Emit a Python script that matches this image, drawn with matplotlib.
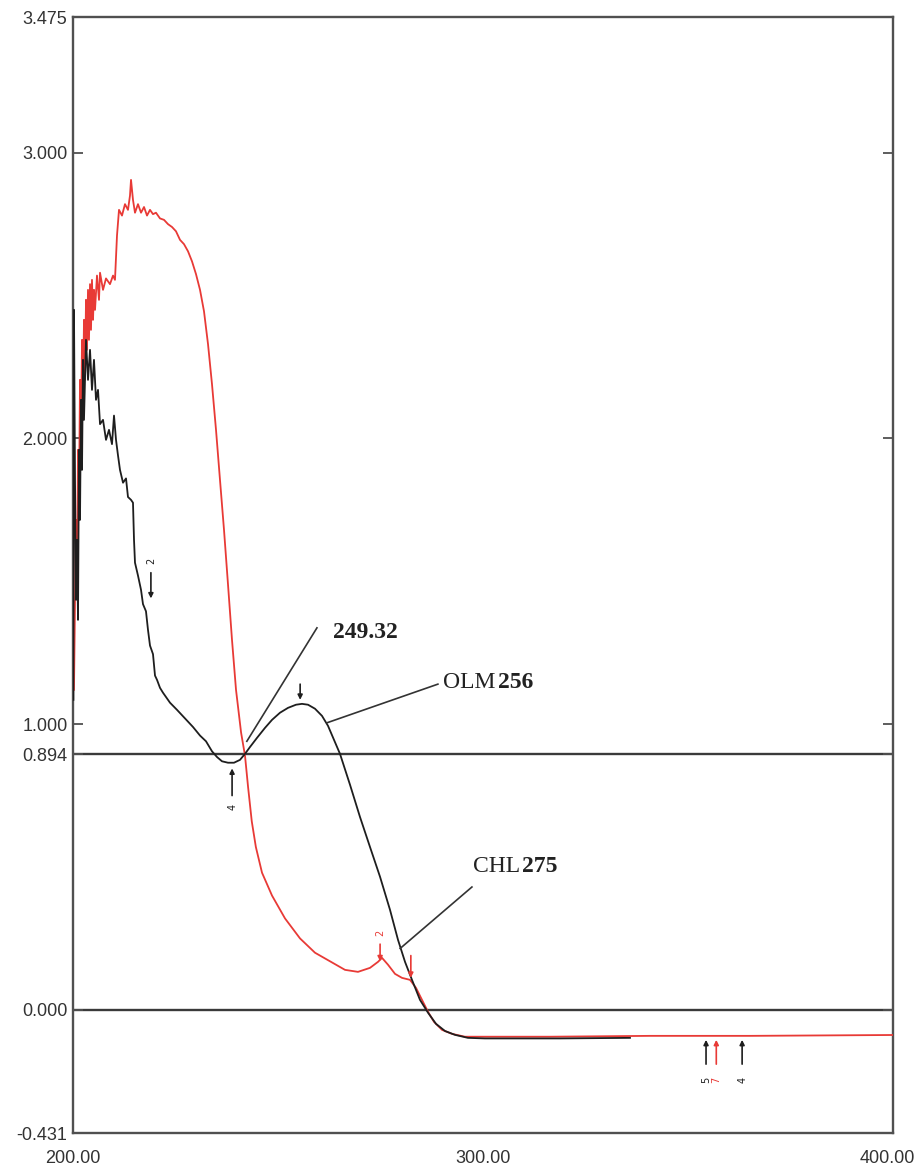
import matplotlib
matplotlib.use("Agg")
import matplotlib.pyplot as plt
import matplotlib.transforms as mtransforms

# ---------------- data ----------------
chl_wl = [200.24, 200.49, 200.73, 200.98, 201.22, 201.46, 201.71, 201.95, 202.2, 202.44,
          202.68, 202.93, 203.17, 203.41, 203.66, 203.9, 204.15, 204.39, 204.63, 204.88,
          205.12, 205.37, 205.85, 206.34, 206.59, 207.32, 208.05, 209.02, 209.76, 210.24,
          210.73, 211.22, 211.95, 212.68, 213.41, 213.9, 214.15, 214.63, 215.12, 215.85,
          216.59, 217.32, 218.05, 218.78, 219.51, 220.24, 221.22, 222.2, 223.17, 224.15,
          225.12, 226.1, 227.07, 228.05, 229.02, 230.0, 230.98, 231.95, 232.93, 233.9,
          234.88, 235.85, 236.83, 237.8, 238.78, 239.76, 241.0, 241.95, 242.7, 243.6,
          244.6, 246.1, 248.54, 251.71, 255.37, 259.02, 262.68, 266.34, 269.51, 272.44,
          274.39, 275.37, 276.83, 278.54, 280.24, 282.2, 283.66, 285.12, 286.59, 288.05,
          290.0, 292.44, 295.61, 299.27, 316.3, 340.7, 365.1, 400.0]
chl_abs = [1.12, 1.435, 1.715, 1.505, 1.96, 1.785, 2.205, 1.995, 2.345, 2.135,
           2.415, 2.205, 2.485, 2.31, 2.52, 2.345, 2.54, 2.38, 2.555, 2.415,
           2.52, 2.45, 2.57, 2.485, 2.58, 2.52, 2.56, 2.54, 2.57, 2.555,
           2.71, 2.80, 2.78, 2.82, 2.80, 2.85, 2.905, 2.835, 2.79, 2.82,
           2.79, 2.81, 2.78, 2.80, 2.785, 2.79, 2.77, 2.765, 2.75, 2.74,
           2.725, 2.695, 2.68, 2.655, 2.62, 2.575, 2.52, 2.445, 2.33, 2.19,
           2.03, 1.855, 1.68, 1.49, 1.295, 1.12, 0.97, 0.89, 0.78, 0.66,
           0.57, 0.48, 0.40, 0.32, 0.25, 0.20, 0.17, 0.14, 0.133, 0.147,
           0.168, 0.182, 0.158, 0.126, 0.112, 0.105, 0.077, 0.035, -0.007, -0.042,
           -0.07, -0.084, -0.094, -0.094, -0.094, -0.091, -0.091, -0.088]

olm_wl = [200.1, 200.24, 200.49, 200.73, 200.98, 201.22, 201.46, 201.71, 201.95, 202.2,
          202.44, 202.68, 203.17, 203.66, 204.15, 204.63, 205.12, 205.61, 206.1, 206.59,
          207.32, 208.05, 208.78, 209.51, 210.0, 210.49, 210.98, 211.46, 212.2, 212.93,
          213.41, 214.15, 214.63, 214.88, 215.12, 215.85, 216.59, 217.07, 217.8, 218.29,
          218.78, 219.51, 220.0, 220.49, 221.22, 221.95, 223.66, 225.37, 227.32, 229.27,
          230.98, 232.44, 233.9, 235.12, 236.34, 237.8, 239.27, 240.73, 241.95, 243.17,
          244.88, 246.83, 248.54, 250.49, 252.44, 254.39, 255.85, 257.32, 259.02, 260.73,
          262.2, 263.66, 265.12, 267.56, 270.0, 272.44, 274.88, 277.32, 279.27, 280.98,
          282.68, 284.63, 286.59, 288.54, 290.73, 293.17, 296.34, 300.49, 318.78, 335.85]
olm_abs = [1.085, 2.45, 1.855, 1.435, 1.645, 1.365, 1.96, 1.715, 2.135, 1.89,
           2.275, 2.065, 2.345, 2.205, 2.31, 2.17, 2.275, 2.135, 2.17, 2.05,
           2.065, 1.995, 2.03, 1.98, 2.08, 1.995, 1.94, 1.89, 1.845, 1.86,
           1.795, 1.785, 1.775, 1.645, 1.565, 1.52, 1.47, 1.42, 1.395, 1.33,
           1.275, 1.245, 1.17, 1.155, 1.127, 1.11, 1.075, 1.05, 1.02, 0.99,
           0.96, 0.94, 0.905, 0.885, 0.87, 0.865, 0.865, 0.875, 0.896, 0.92,
           0.952, 0.987, 1.015, 1.04, 1.057, 1.068, 1.071, 1.068, 1.054, 1.029,
           0.994, 0.945, 0.896, 0.788, 0.675, 0.57, 0.466, 0.35, 0.245, 0.168,
           0.105, 0.035, -0.01, -0.049, -0.074, -0.0875, -0.098, -0.1, -0.1, -0.098]

y_ticks = [-0.431, 0.000, 0.894, 1.000, 2.000, 3.000, 3.475]
y_tick_labels = ["-0.431", "0.000", "0.894", "1.000", "2.000", "3.000", "3.475"]
x_ticks = [200, 300, 400]
x_tick_labels = ["200.00", "300.00", "400.00"]
ref_lines = [0.894, 0.000]

RED = "#e83a36"
BLK = "#1e1e1e"
FRAME = "#505050"

# ---------------- figure ----------------
fig = plt.figure(figsize=(9.22, 11.75), dpi=100)
ax = fig.add_axes([73 / 922, 1 - 1133 / 1175, 820 / 922, 1116 / 1175])

for yv in ref_lines:
    ax.axhline(yv, color="#3a3a3a", lw=1.7, zorder=1)

ax.plot(chl_wl, chl_abs, color=RED, lw=1.3, zorder=3)
ax.plot(olm_wl, olm_abs, color=BLK, lw=1.3, zorder=4)

ax.set_xlim(200, 400)
ax.set_ylim(-0.431, 3.475)

ax.set_yticks(y_ticks)
ax.set_yticklabels(y_tick_labels)
ax.set_xticks(x_ticks)
ax.set_xticklabels(x_tick_labels)
ax.tick_params(axis="y", direction="in", length=7, width=1.3, color=FRAME,
               right=True, labelsize=13, labelcolor="#333333", pad=4)
ax.tick_params(axis="x", length=0, labelsize=13, labelcolor="#333333", pad=12)
for lab in ax.get_xticklabels() + ax.get_yticklabels():
    lab.set_fontfamily("Liberation Sans")
# keep the last x label inside the picture
last = ax.get_xticklabels()[-1]
last.set_transform(last.get_transform() +
                   mtransforms.ScaledTranslation(-6 / 100, 0, fig.dpi_scale_trans))
for sp in ax.spines.values():
    sp.set_color(FRAME)
    sp.set_linewidth(1.7)

# ---------------- annotations ----------------
serif = "Liberation Serif"
ax.plot([259.5, 242.4], [1.337, 0.94], color="#333333", lw=1.2, zorder=5)
ax.text(263.4, 1.32, "249.32", fontfamily=serif, fontweight="bold", fontsize=17,
        va="center", ha="left", color="#222222")

ax.plot([289.0, 262.0], [1.14, 1.005], color="#333333", lw=1.2, zorder=5)
ax.text(290.2, 1.145, "OLM ", fontfamily=serif, fontsize=17, va="center", ha="left",
        color="#222222")
ax.text(303.6, 1.145, "256", fontfamily=serif, fontweight="bold", fontsize=17,
        va="center", ha="left", color="#222222")

ax.plot([297.3, 279.8], [0.43, 0.215], color="#333333", lw=1.2, zorder=5)
ax.text(297.6, 0.50, "CHL", fontfamily=serif, fontsize=17, va="center", ha="left",
        color="#222222")
ax.text(309.6, 0.50, "275", fontfamily=serif, fontweight="bold", fontsize=17,
        va="center", ha="left", color="#222222")

# peak-pick markers
def marker(x, y_tail, y_head, col, label=None, y_lab=None):
    ax.annotate("", xy=(x, y_head), xytext=(x, y_tail),
                arrowprops=dict(arrowstyle="-|>", color=col, lw=1.2,
                                mutation_scale=7, shrinkA=0, shrinkB=0), zorder=6)
    if label is not None:
        ax.text(x, y_lab, label, rotation=90, fontsize=7, color=col,
                ha="center", va="center", fontfamily="DejaVu Sans")

marker(219.0, 1.53, 1.44, BLK, "2", 1.57)
marker(255.4, 1.14, 1.085, BLK)
marker(238.8, 0.75, 0.845, BLK, "4", 0.71)
marker(274.9, 0.23, 0.17, RED, "2", 0.27)
marker(282.4, 0.19, 0.112, RED)
marker(354.4, -0.19, -0.105, BLK, "5", -0.245)
marker(356.9, -0.19, -0.105, RED, "7", -0.245)
marker(363.2, -0.19, -0.105, BLK, "4", -0.245)

fig.savefig("out.png", dpi=100, facecolor="white")
